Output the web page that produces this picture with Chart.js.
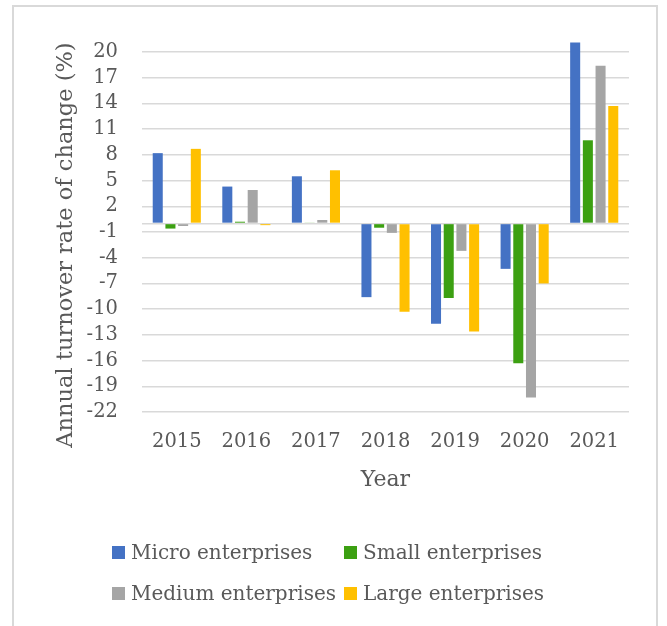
<!DOCTYPE html>
<html>
<head>
<meta charset="utf-8">
<script src="https://cdn.jsdelivr.net/npm/chart.js@4/dist/chart.umd.min.js"></script>
<style>
  html, body { margin: 0; padding: 0; background: #ffffff; }
  body { width: 667px; height: 626px; position: relative; overflow: hidden; }
  #frame {
    position: absolute; left: 12px; top: 5px; width: 646px; height: 660px;
    border: 2px solid #d9d9d9; box-sizing: border-box;
  }
  #chart { position: absolute; left: 0; top: 0; }
  #legend {
    position: absolute; left: 112px; top: 540px;
    display: grid; grid-template-columns: 232px 240px; row-gap: 17px;
    font: 20px "DejaVu Serif", serif; color: #595959;
  }
  .item { display: flex; align-items: center; height: 24px; white-space: nowrap; }
  .box { width: 13px; height: 13px; margin-right: 6px; flex: none; }
</style>
</head>
<body>
<div id="frame"></div>
<canvas id="chart" width="667" height="626"></canvas>
<div id="legend"></div>
<script>
// Annual turnover rate of change by enterprise size
const years = ['2015', '2016', '2017', '2018', '2019', '2020', '2021'];
const microEnterprises  = [8.2, 4.3, 5.5, -8.6, -11.7, -5.3, 21.1];
const smallEnterprises  = [-0.6, 0.2, 0.1, -0.5, -8.7, -16.3, 9.7];
const mediumEnterprises = [-0.3, 3.9, 0.4, -1.1, -3.2, -20.3, 18.4];
const largeEnterprises  = [8.7, -0.2, 6.2, -10.3, -12.6, -7.0, 13.7];
const yTickValues = [20, 17, 14, 11, 8, 5, 2, -1, -4, -7, -10, -13, -16, -19, -22];

const seriesNames = ['Micro enterprises', 'Small enterprises', 'Medium enterprises', 'Large enterprises'];
const seriesColors = ['#4472C4', '#3CA012', '#A5A5A5', '#FFC000'];
const seriesData = [microEnterprises, smallEnterprises, mediumEnterprises, largeEnterprises];

const yAxisTitle = 'Annual turnover rate of change (%)';
const xAxisTitle = 'Year';
const textColor = '#595959';
const fontFamily = '"DejaVu Serif", serif';

// rotated y-axis title, centred on the plot plus category band
const yTitlePlugin = {
  id: 'yTitle',
  afterDraw(chart) {
    const { ctx, chartArea } = chart;
    ctx.save();
    ctx.translate(chartArea.left - 76, (chartArea.top + chartArea.bottom) / 2 + 19);
    ctx.rotate(-Math.PI / 2);
    ctx.font = '22.5px ' + fontFamily;
    ctx.fillStyle = textColor;
    ctx.textAlign = 'center';
    ctx.textBaseline = 'middle';
    ctx.fillText(yAxisTitle, 0, 0);
    ctx.restore();
  }
};

const chart = new Chart(document.getElementById('chart'), {
  type: 'bar',
  data: {
    labels: years,
    datasets: seriesNames.map((name, i) => ({
      label: name,
      data: seriesData[i],
      backgroundColor: seriesColors[i],
      borderWidth: 0,
      categoryPercentage: 0.73,
      barPercentage: 0.79
    }))
  },
  options: {
    responsive: false,
    animation: false,
    devicePixelRatio: 1,
    layout: { padding: { left: 0, right: 38, top: 40, bottom: 133 } },
    plugins: {
      legend: { display: false },
      tooltip: { enabled: false }
    },
    scales: {
      x: {
        grid: { display: false, drawTicks: false },
        border: { display: false },
        ticks: {
          color: textColor,
          font: { family: fontFamily, size: 19.5, lineHeight: 1.2 },
          padding: 18,
          maxRotation: 0,
          autoSkip: false
        },
        title: {
          display: true,
          text: xAxisTitle,
          color: textColor,
          font: { family: fontFamily, size: 22, lineHeight: 1.2 },
          padding: { top: 0, bottom: 0 }
        },
        afterFit(scale) { scale.height = 81; }
      },
      y: {
        min: -22,
        max: 21.4,
        grid: { color: '#d9d9d9', lineWidth: 1.5, drawTicks: false },
        border: { display: false },
        ticks: {
          color: textColor,
          font: { family: fontFamily, size: 19.5, lineHeight: 1 },
          padding: 24,
          autoSkip: false,
          callback: (v) => (v === 0 ? '' : String(v))
        },
        afterBuildTicks(scale) {
          scale.ticks = yTickValues.concat([0]).sort((a, b) => b - a).map(v => ({ value: v }));
        },
        afterFit(scale) { scale.width = 142; }
      }
    }
  },
  plugins: [yTitlePlugin]
});

// legend laid out as a two-column grid
const legendEl = document.getElementById('legend');
chart.data.datasets.forEach(ds => {
  const item = document.createElement('div');
  item.className = 'item';
  const box = document.createElement('span');
  box.className = 'box';
  box.style.background = ds.backgroundColor;
  const label = document.createElement('span');
  label.textContent = ds.label;
  item.appendChild(box);
  item.appendChild(label);
  legendEl.appendChild(item);
});
</script>
</body>
</html>
